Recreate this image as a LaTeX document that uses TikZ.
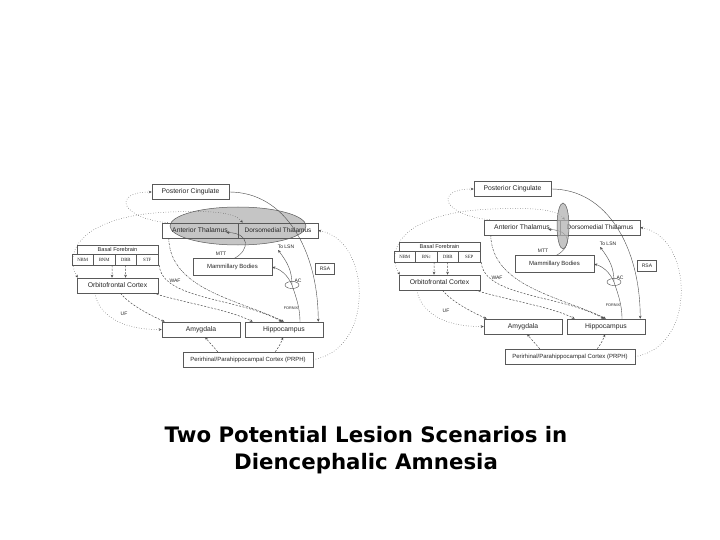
\documentclass[tikz,border=0pt]{standalone}
\usepackage{fontspec}
\setmainfont{Liberation Sans}
\newfontfamily\titlefont{DejaVu Sans}
\newfontfamily\cellfont{Liberation Serif}
\usetikzlibrary{calc,arrows.meta,shapes.geometric}
\tikzset{
  box/.style={draw=black!65, line width=0.5pt, inner sep=0pt, minimum height=15pt,
    font=\fontsize{6.8}{7}\selectfont, text=black!85},
  cellbox/.style={draw=black!65, line width=0.5pt, inner sep=0pt, minimum height=11pt,
    minimum width=21.5pt, font=\cellfont\fontsize{4.8}{5}\selectfont, text=black!85},
  lbl/.style={font=\fontsize{5}{5}\selectfont, text=black!85, inner sep=0.5pt},
  conn/.style={draw=black!70, line width=0.5pt, -{Stealth[length=3pt,width=2.6pt]}},
  dotc/.style={conn, dotted},
  dashc/.style={conn, dash pattern=on 2pt off 1.5pt},
  dashdot/.style={conn, dash pattern=on 2pt off 1pt on 0.6pt off 1pt},
  thinc/.style={conn, line width=0.4pt},
  lesion/.style={draw=black!65, line width=0.5pt, fill=black!30, fill opacity=0.75},
}
% #1 prefix, #2 #3 shift, #4 #5 cell texts
\newcommand\lesionnet[5]{%
\begin{scope}[shift={(#2,#3)}]
  \node[box, minimum width=77pt] (#1pc) at (190.5,192) {Posterior Cingulate};
  \node[box, minimum width=76pt] (#1at) at (200,230.5) {Anterior Thalamus};
  \node[box, minimum width=80pt, font=\fontsize{6.5}{7}\selectfont] (#1dm) at (278,230.5) {Dorsomedial Thalamus};
  \node[box, minimum width=81pt, minimum height=9pt, font=\fontsize{5.6}{6}\selectfont] (#1bf) at (117.5,249.5) {Basal Forebrain};
  \node[cellbox] (#1cell1) at (82.75,259.5) {NBM};
  \node[cellbox] (#1cell2) at (104.25,259.5) {#4};
  \node[cellbox] (#1cell3) at (125.75,259.5) {DBB};
  \node[cellbox] (#1cell4) at (147.25,259.5) {#5};
  \node[box, minimum width=79pt, minimum height=17pt, font=\fontsize{6}{6}\selectfont] (#1mb) at (232.5,267) {Mammillary Bodies};
  \node[box, minimum width=19pt, minimum height=11pt, font=\fontsize{5}{5}\selectfont] (#1rsa) at (325,268.5) {RSA};
  \node[box, minimum width=81pt] (#1ofc) at (117.5,285.5) {Orbitofrontal Cortex};
  \node[box, minimum width=78pt] (#1amy) at (201,329.5) {Amygdala};
  \node[box, minimum width=78pt] (#1hip) at (284,329.5) {Hippocampus};
  \node[box, minimum width=130pt, font=\fontsize{6}{6}\selectfont] (#1prph) at (248,359.5) {Perirhinal/Parahippocampal Cortex (PRPH)};
  \node[draw=black!70, line width=0.4pt, ellipse, minimum width=14pt, minimum height=7pt, inner sep=0pt] (#1ac) at (292,285) {};
  \node[lbl] (#1aclbl) at (298,281) {AC};
  \node[lbl] (#1mtt) at (221,254) {MTT};
  \node[lbl] (#1lsn) at (286,246.5) {To LSN};
  \node[lbl, font=\fontsize{3.8}{4}\selectfont] (#1fornix) at (291,308) {FORNIX};
  \node[lbl] (#1waf) at (175,281) {WAF};
  \node[lbl] (#1uf) at (124,314) {UF};
  % connectors
  \draw[dotc] ($(#1at.north west)+(6,0)$) .. controls (120,218) and (112,192) .. (#1pc.west);
  \draw[thinc] (#1pc.east) .. controls (285,192) and (318,250) .. ($(#1hip.north east)+(-5,0)$);
  \draw[dotc] (#1prph.east) .. controls (375,350) and (372,240) .. (#1dm.east);
  \draw[dotc, {Stealth[length=3pt,width=2.6pt]}-{Stealth[length=3pt,width=2.6pt]}]
    ($(#1ofc.north west)+(1,0)$) .. controls (62,250) and (85,215) .. (170,212)
    .. controls (215,210) and (235,213) .. ($(#1dm.north west)+(5,0)$);
  \draw[thinc] ($(#1mb.north)+(2,0)$) .. controls (250,250) and (250,233) .. ($(#1at.east)+(-12,2)$);
  \draw[thinc] ($(#1hip.north)+(16,0)$) .. controls (300,305) and (294,292) .. (#1ac.center)
    .. controls (288,276) and (282,270) .. (#1mb.east);
  \draw[thinc] (#1ac.center) .. controls (292,270) and (287,262) .. ($(#1lsn.south west)+(1,1)$);
  \draw[dotc] ($(#1ofc.south west)+(18,0)$) .. controls (100,320) and (130,330) .. (#1amy.west);
  \draw[dashc] ($(#1ofc.south)+(3,0)$) .. controls (130,305) and (150,315) .. ($(#1amy.north west)+(3,0)$);
  \draw[dashc] ($(#1ofc.south east)+(-5,0)$) .. controls (185,303) and (230,310) .. ($(#1hip.north west)+(8,0)$);
  \draw[dashdot] ($(#1at.south west)+(7,0)$) .. controls (170,290) and (240,300) .. (#1hip.north);
  \draw[dashc] ($(#1cell4.south)+(12,0)$) .. controls (162,300) and (240,298) .. ($(#1hip.north)+(-2,0)$);
  \draw[dashc] ($(#1cell2.south)+(8,0)$) -- ($(#1ofc.north)+(-5.5,0)$);
  \draw[dashc] (#1cell3.south) -- ($(#1ofc.north)+(8,0)$);
  \draw[dashc] ($(#1prph.north west)+(35,0)$) .. controls (212,345) .. ($(#1amy.south)+(4,0)$);
  \draw[dashc] ($(#1prph.north east)+(-38,0)$) .. controls (280,345) .. ($(#1hip.south)+(-1,0)$);
\end{scope}}

\begin{document}
\begin{tikzpicture}[x=1pt,y=-1pt]
  \useasboundingbox[fill=white] (0,0) rectangle (720,540);
  % left lesion (shaded ellipse over thalamus)
  \draw[lesion] (238,226) ellipse[x radius=68, y radius=19];
  \lesionnet{L}{0}{0}{BNM}{STF}
  \lesionnet{R}{322}{-3}{BNc}{SEP}
  % right lesion (narrow vertical ellipse)
  \draw[lesion] (563,226) ellipse[x radius=6, y radius=23];
  \node[font=\titlefont\bfseries\fontsize{21.3}{26.5}\selectfont, align=center, text=black] (title) at (366,450)
    {Two Potential Lesion Scenarios in\\Diencephalic Amnesia};
\end{tikzpicture}
\end{document}
